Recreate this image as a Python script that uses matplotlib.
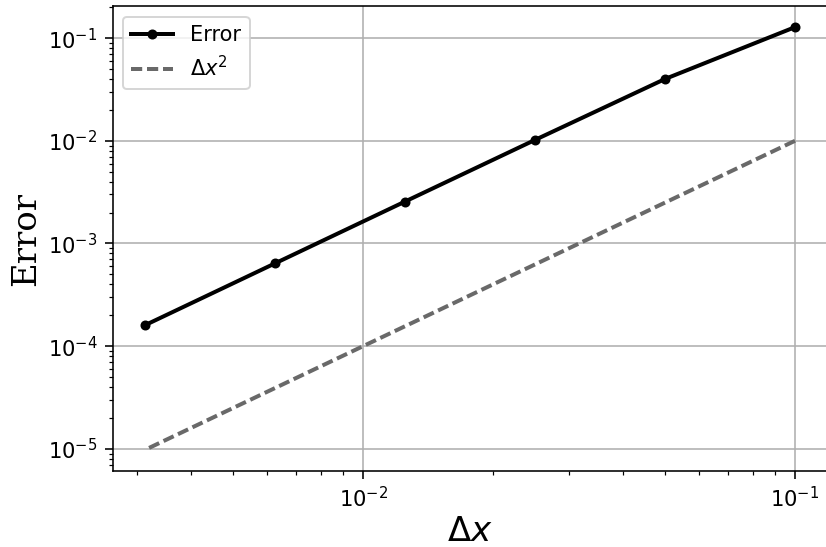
import matplotlib
matplotlib.use("Agg")
import matplotlib.pyplot as plt
import numpy as np

# grid spacings and measured errors
dx = np.array([0.1, 0.05, 0.025, 0.0125, 0.00625, 0.003125])
error = np.array([0.128, 0.040, 0.0102, 0.00256, 0.00064, 0.00016])

fig = plt.figure(figsize=(826 / 144, 547 / 144), dpi=144)
ax = fig.add_axes([112.5 / 826, 76 / 547, 715 / 826, 465 / 547])

ax.loglog(dx, error, "k.-", linewidth=2, markersize=8, label="Error")
ax.loglog(dx, dx**2, linestyle=(0, (2.8, 1.2)), color="dimgray",
          linewidth=2, label=r"$\Delta x^2$")

ax.set_xlabel(r"$\Delta x$", fontsize=17, labelpad=2)
ax.set_ylabel("Error", fontsize=17, family="serif", labelpad=3)
ax.tick_params(labelsize=10.5, length=4)
ax.tick_params(which="minor", length=2.2)
ax.grid(True)
ax.legend(loc="upper left", fontsize=10.5)

fig.savefig("out.png", dpi=144)
